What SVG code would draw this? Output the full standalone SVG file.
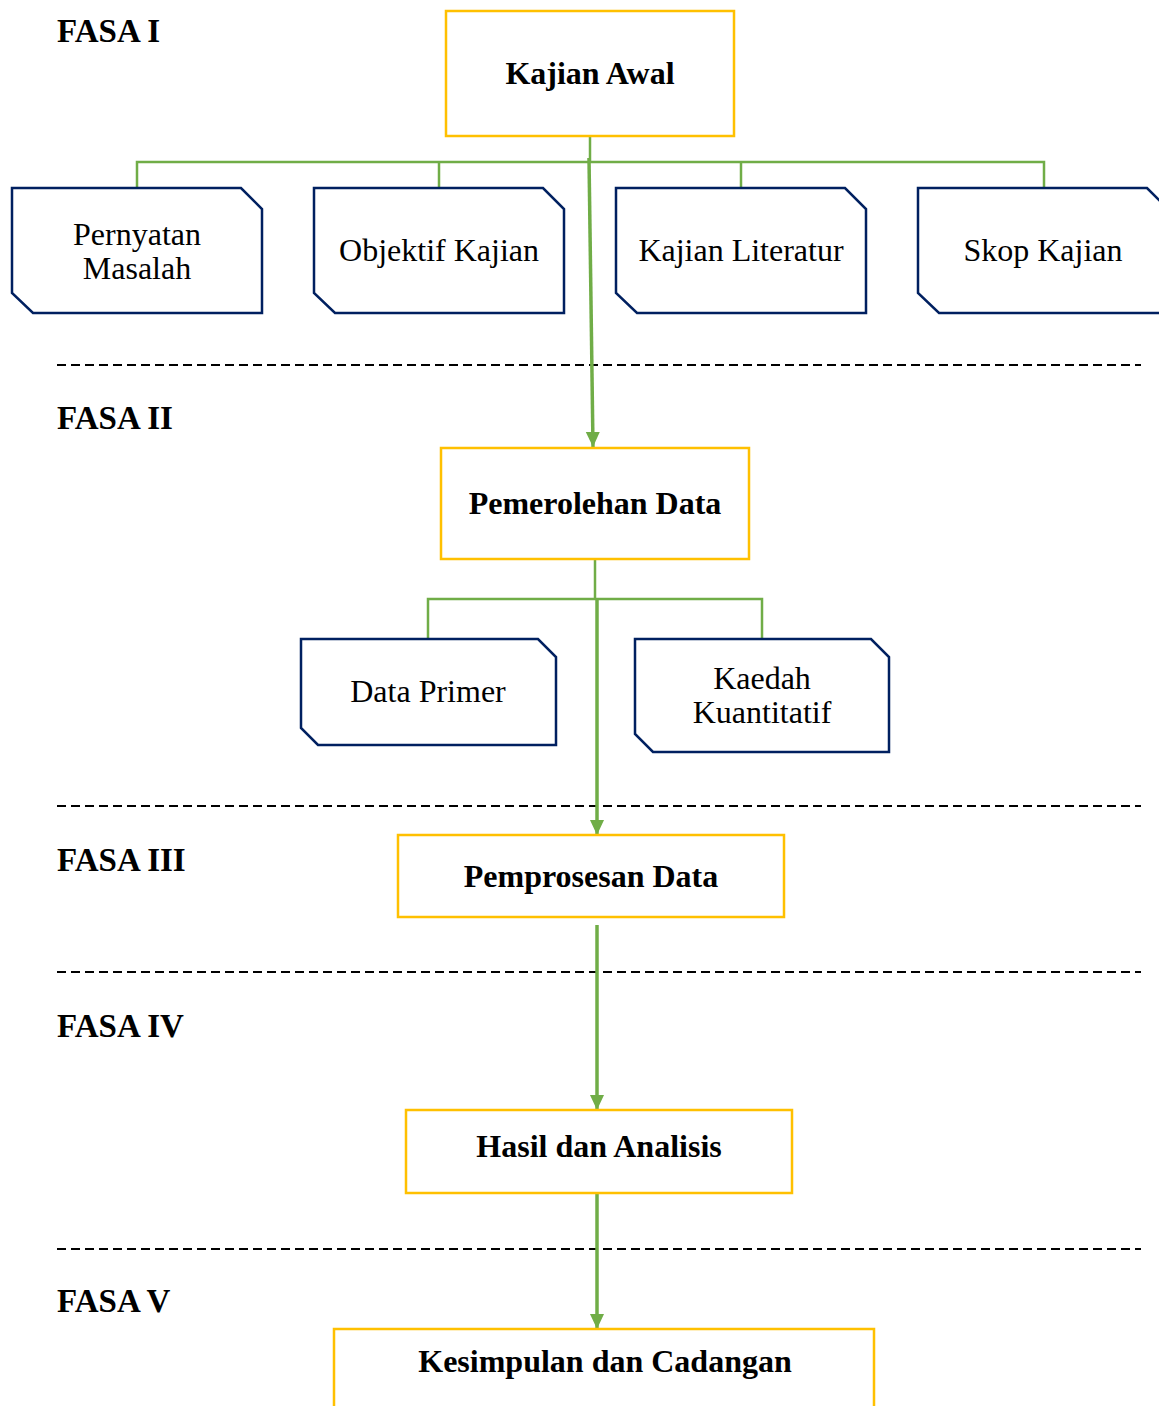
<svg xmlns="http://www.w3.org/2000/svg" width="1159" height="1406" viewBox="0 0 1159 1406">
<style>
.main{fill:#fff;stroke:#FFC000;stroke-width:2.5}
.sub{fill:#fff;stroke:#002060;stroke-width:2.5;stroke-linejoin:miter}
.conn{fill:none;stroke:#70AD47;stroke-width:2.5}
.arr{fill:none;stroke:#70AD47;stroke-width:3.5}
.dash{stroke:#000;stroke-width:2;stroke-dasharray:9 5}
.b{font-family:"Liberation Serif",serif;font-weight:700;font-size:32px;fill:#000}
.r{font-family:"Liberation Serif",serif;font-weight:400;font-style:normal;font-size:32px;fill:#000}
.fasa{font-family:"Liberation Serif",serif;font-weight:700;font-size:33px;fill:#000}
</style>
<defs>
<marker id="ah" markerUnits="userSpaceOnUse" markerWidth="16" markerHeight="16" viewBox="0 0 16 16" refX="15" refY="8" orient="auto">
<path d="M0,1 L15,8 L0,15 Z" fill="#70AD47"/>
</marker>
</defs>
<rect width="1159" height="1406" fill="#fff"/>

<g id="separators">
<line class="dash" x1="57" y1="365" x2="1141" y2="365"/>
<line class="dash" x1="57" y1="806" x2="1141" y2="806"/>
<line class="dash" x1="57" y1="972" x2="1141" y2="972"/>
<line class="dash" x1="57" y1="1249" x2="1141" y2="1249"/>
</g>

<g id="phase-labels">
<text class="fasa" x="57" y="42">FASA I</text>
<text class="fasa" x="57" y="429">FASA II</text>
<text class="fasa" x="57" y="871">FASA III</text>
<text class="fasa" x="57" y="1037">FASA IV</text>
<text class="fasa" x="57" y="1312">FASA V</text>
</g>

<g id="connectors">
<polyline class="conn" points="590,136 590,162"/>
<polyline class="conn" points="137,188 137,162 1044,162 1044,188"/>
<line class="conn" x1="439" y1="162" x2="439" y2="188"/>
<line class="conn" x1="741" y1="162" x2="741" y2="188"/>
<line class="arr" x1="589" y1="158" x2="593" y2="447" marker-end="url(#ah)"/>
<polyline class="conn" points="595,559 595,599"/>
<polyline class="conn" points="428,639 428,599 762,599 762,639"/>
<line class="arr" x1="597" y1="599" x2="597" y2="835" marker-end="url(#ah)"/>
<line class="arr" x1="597" y1="925" x2="597" y2="1110" marker-end="url(#ah)"/>
<line class="arr" x1="597" y1="1193" x2="597" y2="1329" marker-end="url(#ah)"/>
</g>

<g id="kajian-awal">
<rect class="main" x="446" y="11" width="288" height="125"/>
<text class="b" x="590" y="84" text-anchor="middle">Kajian Awal</text>
</g>

<g id="pernyatan-masalah">
<path class="sub" d="M12,188 H241 L262,209 V313 H33 L12,293 Z"/>
<text class="r" x="137" y="245" text-anchor="middle">Pernyatan</text>
<text class="r" x="137" y="279" text-anchor="middle">Masalah</text>
</g>

<g id="objektif-kajian">
<path class="sub" d="M314,188 H543 L564,209 V313 H335 L314,293 Z"/>
<text class="r" x="439" y="261" text-anchor="middle">Objektif Kajian</text>
</g>

<g id="kajian-literatur">
<path class="sub" d="M616,188 H845 L866,209 V313 H637 L616,293 Z"/>
<text class="r" x="741" y="261" text-anchor="middle">Kajian Literatur</text>
</g>

<g id="skop-kajian">
<path class="sub" d="M918,188 H1147 L1168,209 V313 H939 L918,293 Z"/>
<text class="r" x="1043" y="261" text-anchor="middle">Skop Kajian</text>
</g>

<g id="pemerolehan-data">
<rect class="main" x="441" y="448" width="308" height="111"/>
<text class="b" x="595" y="514" text-anchor="middle">Pemerolehan Data</text>
</g>

<g id="data-primer">
<path class="sub" d="M301,639 H538 L556,657 V745 H318 L301,728 Z"/>
<text class="r" x="428" y="702" text-anchor="middle">Data Primer</text>
</g>

<g id="kaedah-kuantitatif">
<path class="sub" d="M635,639 H871 L889,657 V752 H653 L635,734 Z"/>
<text class="r" x="762" y="689" text-anchor="middle">Kaedah</text>
<text class="r" x="762" y="723" text-anchor="middle">Kuantitatif</text>
</g>

<g id="pemprosesan-data">
<rect class="main" x="398" y="835" width="386" height="82"/>
<text class="b" x="591" y="887" text-anchor="middle">Pemprosesan Data</text>
</g>

<g id="hasil-analisis">
<rect class="main" x="406" y="1110" width="386" height="83"/>
<text class="b" x="599" y="1157" text-anchor="middle">Hasil dan Analisis</text>
</g>

<g id="kesimpulan-cadangan">
<path class="main" d="M334,1410 V1329 H874 V1410"/>
<text class="b" x="605" y="1372" text-anchor="middle">Kesimpulan dan Cadangan</text>
</g>
</svg>
